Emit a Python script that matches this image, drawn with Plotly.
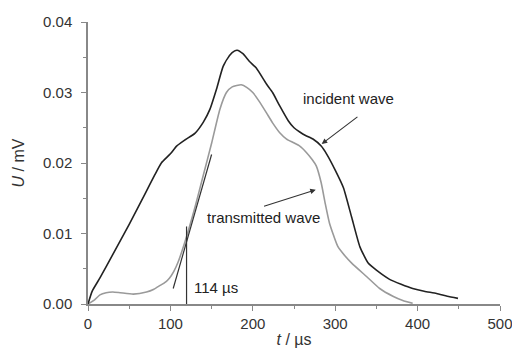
import plotly.graph_objects as go

# Incident wave (black)
inc_t = [0, 5, 14.5, 30, 50, 70, 81, 89, 100, 107.5, 118, 129.7, 140, 147.9, 156, 164, 172, 178, 181,
         188, 196, 204, 216.6, 224, 232.7, 243, 250, 257, 264, 273, 283, 290, 300, 310, 320, 330,
         340, 350, 366, 380, 394, 408, 423, 436, 449]
inc_u = [0, 0.0018, 0.0037, 0.0070, 0.0113, 0.0158, 0.0183, 0.0200, 0.0213, 0.0224, 0.0233, 0.0242,
         0.0258, 0.0276, 0.0305, 0.0337, 0.0353, 0.0359, 0.0360, 0.0355, 0.0344, 0.0335, 0.0312,
         0.0300, 0.0281, 0.0260, 0.0250, 0.0244, 0.0239, 0.0234, 0.0224, 0.0212, 0.0190, 0.0165,
         0.0123, 0.0081, 0.0058, 0.0048, 0.0035, 0.0028, 0.0022, 0.0018, 0.0015, 0.0011, 0.0008]

# Transmitted wave (grey)
tr_t = [0, 8, 14.5, 22, 30, 39, 55, 71, 80, 87, 94, 99, 104, 109.5, 117.6, 130, 140, 150, 160, 168,
        175, 186, 193, 200, 208, 216.6, 224, 232.7, 241, 249, 257, 265, 272, 277, 283, 288, 293,
        303, 312, 320, 338, 354, 370, 382, 394]
tr_u = [0, 0.0006, 0.0013, 0.0016, 0.0017, 0.0016, 0.0014, 0.0017, 0.0021, 0.0026, 0.0031, 0.0037,
        0.0046, 0.0060, 0.0088, 0.0138, 0.0183, 0.0228, 0.0276, 0.0300, 0.0308, 0.0311, 0.0307,
        0.0300, 0.0287, 0.0271, 0.0257, 0.0243, 0.0234, 0.0229, 0.0224, 0.0215, 0.0205, 0.0196,
        0.0172, 0.0142, 0.0115, 0.0082, 0.0068, 0.0058, 0.0039, 0.0022, 0.0011, 0.0005, 0.0001]

# Tangent construction
tangent_t = [103.4, 150]
tangent_u = [0.0022, 0.0212]
onset_t = [119.6, 119.6]
onset_u = [0, 0.011]

x_ticks = [0, 100, 200, 300, 400, 500]
y_ticks = [0.00, 0.01, 0.02, 0.03, 0.04]
y_tick_labels = ["0.00", "0.01", "0.02", "0.03", "0.04"]

FONT = "Liberation Sans, Arial, sans-serif"

fig = go.Figure()
fig.add_trace(go.Scatter(x=tr_t, y=tr_u, mode="lines",
                         line=dict(color="#9a9a9a", width=1.6, shape="spline", smoothing=0.5)))
fig.add_trace(go.Scatter(x=inc_t, y=inc_u, mode="lines",
                         line=dict(color="#222222", width=1.6, shape="spline", smoothing=0.5)))
fig.add_trace(go.Scatter(x=tangent_t, y=tangent_u, mode="lines",
                         line=dict(color="#333333", width=1.2)))
fig.add_trace(go.Scatter(x=onset_t, y=onset_u, mode="lines",
                         line=dict(color="#333333", width=1.2)))

annotations = [
    dict(x=316.4, y=0.0291, text="incident wave", showarrow=False),
    dict(x=212.5, y=0.0122, text="transmitted wave", showarrow=False),
    dict(x=155, y=0.0024, text="114 µs", showarrow=False),
    dict(x=283.6, y=0.0227, ax=328.8, ay=0.0267, axref="x", ayref="y", text="",
         showarrow=True, arrowhead=2, arrowsize=1, arrowwidth=1.1, arrowcolor="#333333"),
    dict(x=276.4, y=0.0162, ax=211.8, ay=0.0138, axref="x", ayref="y", text="",
         showarrow=True, arrowhead=2, arrowsize=1, arrowwidth=1.1, arrowcolor="#333333"),
]
for a in annotations:
    a.setdefault("font", dict(family=FONT, size=15, color="#222222"))

fig.update_layout(
    width=512, height=350,
    margin=dict(l=88, r=12, t=22, b=46),
    paper_bgcolor="white", plot_bgcolor="white",
    showlegend=False,
    font=dict(family=FONT, size=15, color="#333333"),
    annotations=annotations,
    xaxis=dict(range=[0, 500], tickvals=x_ticks, ticks="outside", ticklen=5, tickwidth=1.3,
               tickcolor="#888888", showline=True, linecolor="#888888", linewidth=1.5,
               showgrid=False, zeroline=False, automargin=False, ticklabeloverflow="allow",
               minor=dict(ticks="outside", ticklen=3, dtick=50, tickcolor="#888888", showgrid=False),
               title=dict(text="<i>t</i> / µs", font=dict(size=16), standoff=3)),
    yaxis=dict(range=[0, 0.04], tickvals=y_ticks, ticktext=y_tick_labels, ticks="outside",
               ticklen=5, tickwidth=1.3, tickcolor="#888888", showline=True, linecolor="#888888",
               linewidth=1.5, showgrid=False, zeroline=False, automargin=False,
               ticklabelstandoff=6, ticklabeloverflow="allow",
               minor=dict(ticks="outside", ticklen=3, dtick=0.005, tickcolor="#888888", showgrid=False),
               title=dict(text="<i>U</i> / mV", font=dict(size=16), standoff=14)),
)

fig.write_html("out.html", config={"displayModeBar": False},
               post_script="document.body.style.margin='0';document.body.style.overflow='hidden';")
